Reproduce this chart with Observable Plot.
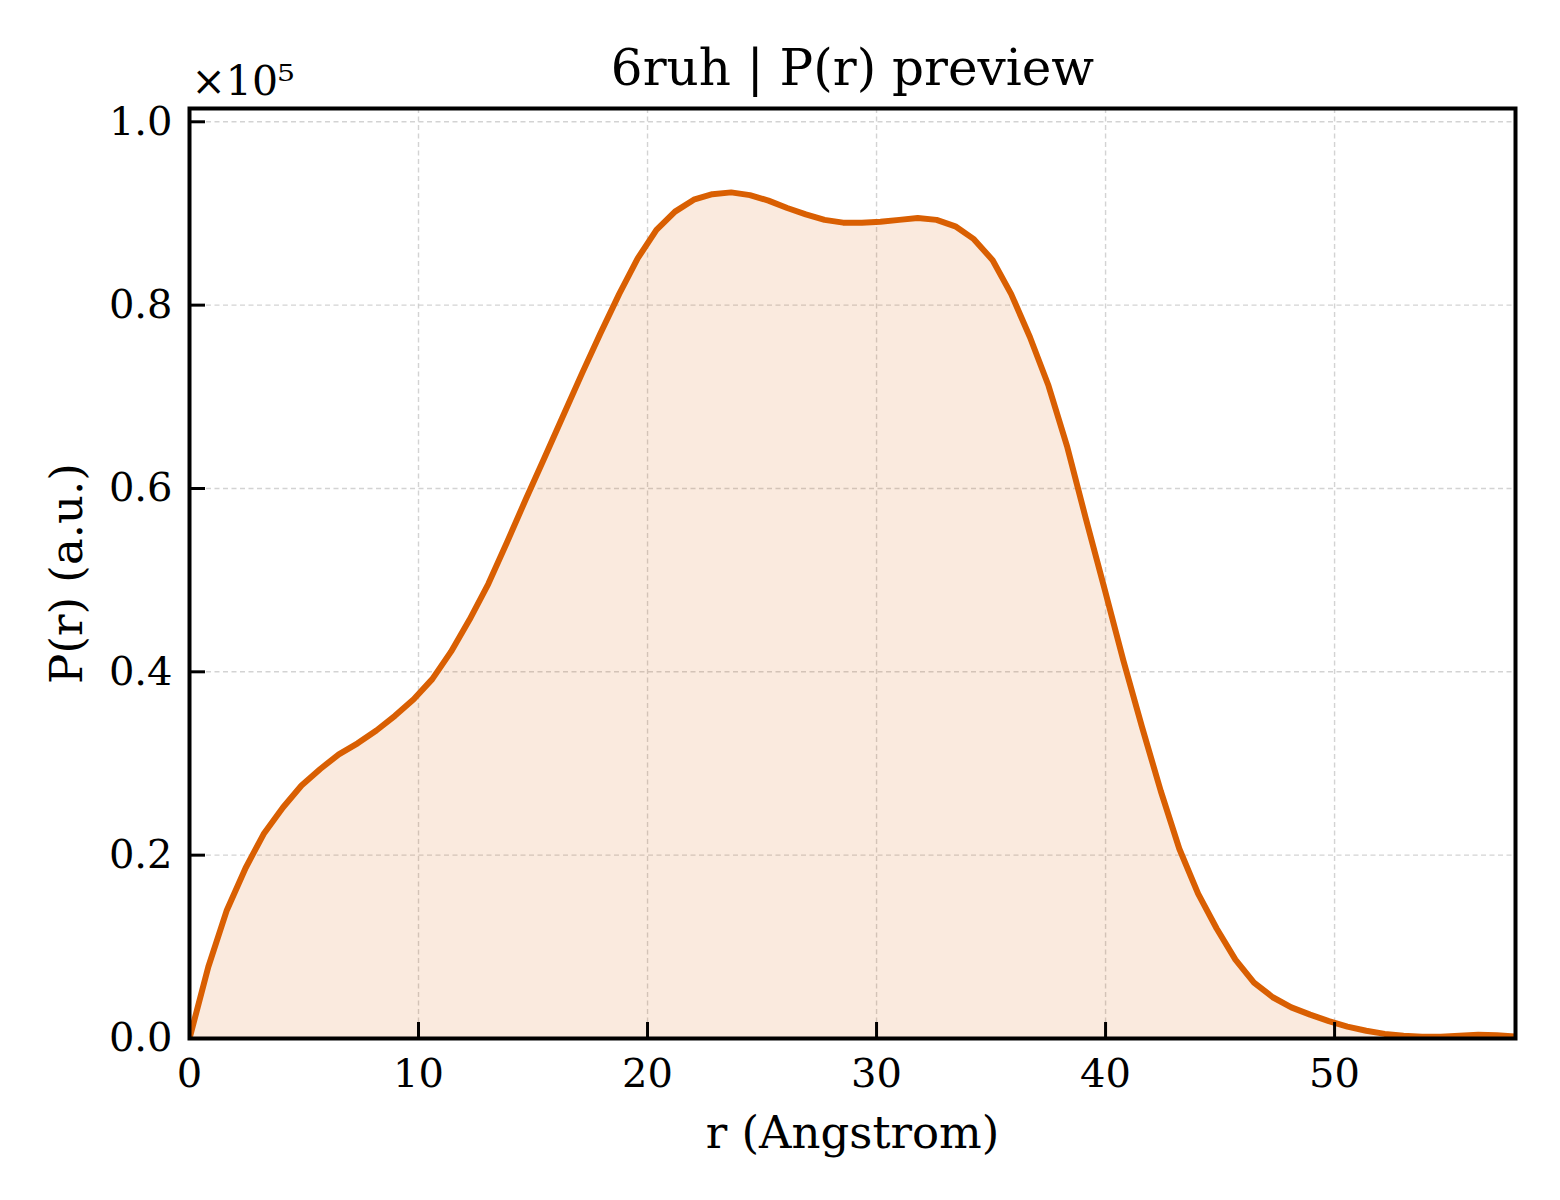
<!DOCTYPE html>
<html>
<head>
<meta charset="utf-8">
<script src="https://cdn.jsdelivr.net/npm/d3@7"></script>
<script src="https://cdn.jsdelivr.net/npm/@observablehq/plot@0.6"></script>
<style>
  html, body { margin: 0; padding: 0; background: #fff; }
  #chart svg { display: block; }
</style>
</head>
<body>
<div id="chart"></div>
<script>
const title = "6ruh | P(r) preview";
const xLabel = "r (Angstrom)";
const yLabel = "P(r) (a.u.)";
const offsetLabel = "×10⁵";

const r = [0, 0.82, 1.63, 2.45, 3.26, 4.08, 4.89, 5.71, 6.52, 7.34, 8.16, 8.97, 9.79, 10.60, 11.42, 12.23,
  13.05, 13.86, 14.68, 15.49, 16.31, 17.13, 17.94, 18.76, 19.57, 20.39, 21.20, 22.02, 22.83, 23.65, 24.47,
  25.28, 26.10, 26.91, 27.73, 28.54, 29.36, 30.17, 30.99, 31.80, 32.62, 33.44, 34.25, 35.07, 35.88, 36.70,
  37.51, 38.33, 39.14, 39.96, 40.78, 41.59, 42.41, 43.22, 44.04, 44.85, 45.67, 46.48, 47.30, 48.11, 48.93,
  49.75, 50.56, 51.38, 52.19, 53.01, 53.82, 54.64, 55.45, 56.27, 57.08, 57.90];

const pr = [0, 7800, 14000, 18600, 22400, 25200, 27600, 29400, 31000, 32200, 33600, 35200, 37000, 39200,
  42200, 45700, 49600, 54100, 58800, 63300, 67900, 72500, 76900, 81200, 85100, 88200, 90200, 91500, 92100,
  92300, 92000, 91400, 90600, 89900, 89300, 89000, 89000, 89100, 89300, 89500, 89300, 88600, 87200, 84900,
  81200, 76500, 71200, 64500, 56700, 49000, 41200, 34000, 27000, 20700, 15800, 12000, 8600, 6100, 4500,
  3400, 2600, 1900, 1300, 850, 500, 300, 200, 200, 300, 400, 350, 200];

const xTicks = [0, 10, 20, 30, 40, 50];
const yTicks = [0, 20000, 40000, 60000, 80000, 100000];

const data = r.map((v, i) => ({r: v, p: pr[i]}));

const color = "#d95f02";
const font = "DejaVu Serif";

const chart = Plot.plot({
  width: 1560,
  height: 1200,
  marginLeft: 189,
  marginRight: 45,
  marginTop: 108,
  marginBottom: 162,
  style: {fontFamily: font, background: "#fff", color: "#000"},
  x: {domain: [0, 57.9]},
  y: {domain: [0, 101450]},
  marks: [
    Plot.gridX(xTicks, {stroke: "#c8c8c8", strokeOpacity: 0.8, strokeWidth: 1.4, strokeDasharray: "5,3.5"}),
    Plot.gridY(yTicks, {stroke: "#c8c8c8", strokeOpacity: 0.8, strokeWidth: 1.4, strokeDasharray: "5,3.5"}),
    Plot.areaY(data, {x: "r", y: "p", fill: color, fillOpacity: 0.13}),
    Plot.lineY(data, {x: "r", y: "p", stroke: color, strokeWidth: 6, clip: true}),
    Plot.axisX({ticks: xTicks, tickSize: -16, strokeWidth: 3, text: null, label: null}),
    Plot.axisY({ticks: yTicks, tickSize: -16, strokeWidth: 3, text: null, label: null}),
    Plot.axisX({ticks: xTicks, tickSize: 0, tickPadding: 20, fontSize: 40, label: null}),
    Plot.axisY({ticks: yTicks, tickSize: 0, tickPadding: 17, fontSize: 40, label: null,
      tickFormat: d => (d / 1e5).toFixed(1)}),
    Plot.frame({stroke: "#000", strokeWidth: 4}),
    Plot.text([title], {text: d => d, frameAnchor: "top", dy: -40, fontSize: 50, lineAnchor: "middle"}),
    Plot.text([offsetLabel], {text: d => d, frameAnchor: "top-left", dx: 2, dy: -27, fontSize: 41, textAnchor: "start", lineAnchor: "middle"}),
    Plot.text([xLabel], {text: d => d, frameAnchor: "bottom", dy: 95, fontSize: 45, lineAnchor: "middle"}),
    Plot.text([yLabel], {text: d => d, frameAnchor: "left", dx: -122, rotate: -90, fontSize: 45, textAnchor: "middle", lineAnchor: "middle"})
  ]
});
document.getElementById("chart").appendChild(chart);
</script>
</body>
</html>
